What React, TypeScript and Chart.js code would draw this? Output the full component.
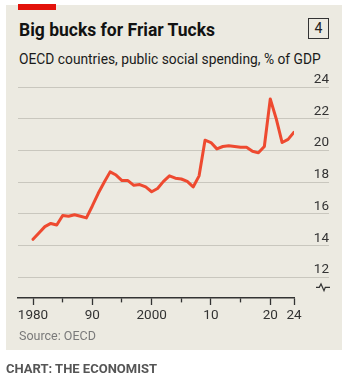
import React, { useEffect, useRef } from "react";
import { Chart, registerables } from "chart.js";

Chart.register(...registerables);

const years = [
  1980, 1981, 1982, 1983, 1984, 1985, 1986, 1987, 1988, 1989,
  1990, 1991, 1992, 1993, 1994, 1995, 1996, 1997, 1998, 1999,
  2000, 2001, 2002, 2003, 2004, 2005, 2006, 2007, 2008, 2009,
  2010, 2011, 2012, 2013, 2014, 2015, 2016, 2017, 2018, 2019,
  2020, 2021, 2022, 2023, 2024,
];
const spending = [
  14.4, 14.8, 15.2, 15.4, 15.3, 15.9, 15.85, 15.95, 15.85, 15.75,
  16.5, 17.3, 18.0, 18.65, 18.45, 18.1, 18.1, 17.8, 17.85, 17.7,
  17.4, 17.6, 18.05, 18.4, 18.25, 18.2, 18.05, 17.7, 18.4, 20.65,
  20.5, 20.1, 20.25, 20.3, 20.25, 20.2, 20.2, 19.95, 19.85, 20.25,
  23.25, 22.0, 20.5, 20.7, 21.15,
];
const yTicks = [12, 14, 16, 18, 20, 22, 24];
const xMajorTicks = [1980, 1990, 2000, 2010, 2020, 2024];
const xMajorLabels = ["1980", "90", "2000", "10", "20", "24"];
const xMinorTicks = [1985, 1995, 2005, 2015];

const FONT = "Roboto, 'Noto Sans', sans-serif";

export default function App() {
  const ref = useRef<HTMLCanvasElement>(null);

  useEffect(() => {
    if (!ref.current) return;
    const chart = new Chart(ref.current, {
      type: "line",
      data: {
        datasets: [
          {
            data: years.map((y, i) => ({ x: y, y: spending[i] })),
            borderColor: "#ee4a30",
            borderWidth: 3,
            pointRadius: 0,
            tension: 0,
            borderJoinStyle: "round",
            borderCapStyle: "round",
          },
        ],
      },
      options: {
        animation: false,
        responsive: false,
        layout: { padding: { left: 18, right: 26, top: 87, bottom: 61 } },
        plugins: { legend: { display: false }, tooltip: { enabled: false } },
        scales: {
          x: {
            type: "linear",
            min: 1977.47,
            max: 2024,
            afterBuildTicks: (s: any) => {
              s.ticks = [...xMajorTicks, ...xMinorTicks]
                .sort((a, b) => a - b)
                .map((v) => ({ value: v }));
            },
            afterFit: (s: any) => {
              s.height = 30;
            },
            grid: {
              drawOnChartArea: false,
              drawTicks: true,
              tickLength: 7,
              tickColor: "#333",
              tickWidth: 1.3,
              tickBorderDash: (ctx: any) =>
                ctx.tick && xMinorTicks.includes(ctx.tick.value) ? [4, 30] : [],
            },
            border: { display: true, color: "#333", width: 1.4 },
            ticks: {
              autoSkip: false,
              maxRotation: 0,
              padding: 3,
              color: "#333",
              font: { family: FONT, size: 13.5 },
              callback: (v: any) => {
                const i = xMajorTicks.indexOf(Number(v));
                return i >= 0 ? xMajorLabels[i] : "";
              },
            },
          },
          y: {
            position: "right",
            min: 10.7,
            max: 24,
            afterBuildTicks: (s: any) => {
              s.ticks = yTicks.map((v) => ({ value: v }));
            },
            afterFit: (s: any) => {
              s.width = 35;
            },
            grid: {
              color: "#c9c7be",
              lineWidth: 1,
              drawTicks: true,
              tickLength: 35,
              tickColor: "#c9c7be",
              tickWidth: 1,
            },
            border: { display: false },
            ticks: {
              crossAlign: "far",
              labelOffset: -7.5,
              padding: 0,
              color: "#333",
              font: { family: FONT, size: 13.5 },
            },
          },
        },
      },
    });
    return () => chart.destroy();
  }, []);

  const abs = (s: React.CSSProperties): React.CSSProperties => ({
    position: "absolute",
    margin: 0,
    whiteSpace: "nowrap",
    ...s,
  });

  return (
    <div
      style={{
        position: "absolute",
        left: 0,
        top: 0,
        width: 355,
        height: 389,
        background: "#ffffff",
        overflow: "hidden",
        fontFamily: FONT,
      }}
    >
      <div style={abs({ left: 6, top: 5, width: 336, height: 345, background: "#eceae1" })} />
      <div style={abs({ left: 18, top: 4, width: 38, height: 6, background: "#e3120b" })} />
      <div
        style={abs({
          left: 19,
          top: 21.5,
          fontSize: 17.5,
          lineHeight: "17.5px",
          fontWeight: 700,
          color: "#121212",
          letterSpacing: 0,
        })}
      >
        Big bucks for Friar Tucks
      </div>
      <div
        style={abs({
          left: 308,
          top: 18,
          width: 19,
          height: 19,
          border: "1px solid #333",
          fontSize: 14,
          lineHeight: "19px",
          textAlign: "center",
          color: "#222",
        })}
      >
        4
      </div>
      <div
        style={abs({
          left: 19,
          top: 52,
          fontSize: 13.8,
          lineHeight: "14px",
          color: "#1a1a1a",
        })}
      >
        OECD countries, public social spending, % of GDP
      </div>
      <svg style={abs({ left: 0, top: 0 })} width={355} height={389}>
        <polyline
          points="316,287.3 319.3,287.3 321,284 324,290.7 325.3,287.3 330,287.3"
          fill="none"
          stroke="#333"
          strokeWidth={1.2}
        />
      </svg>
      <canvas ref={ref} width={355} height={389} style={abs({ left: 0, top: 0 })} />
      <div style={abs({ left: 19, top: 330, fontSize: 12.5, lineHeight: "12.5px", color: "#7a7a7a" })}>
        Source: OECD
      </div>
      <div
        style={abs({
          left: 6,
          top: 361.5,
          fontSize: 13,
          lineHeight: "13px",
          fontWeight: 700,
          color: "#555",
        })}
      >
        CHART: THE ECONOMIST
      </div>
    </div>
  );
}
